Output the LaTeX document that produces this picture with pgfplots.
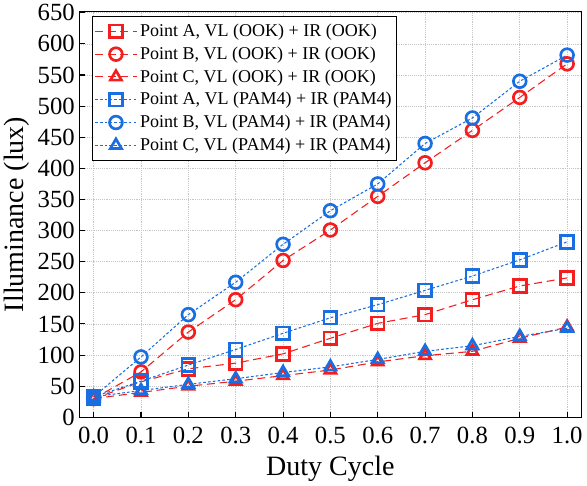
\documentclass[border=0pt]{standalone}
\usepackage{pgfplots}
\pgfplotsset{compat=1.18}
\usepackage{fontspec}
\setmainfont{Liberation Serif}
\definecolor{cred}{RGB}{245,30,30}
\definecolor{cblue}{RGB}{25,110,225}
\begin{document}
\begin{tikzpicture}
\begin{axis}[
  scale only axis, width=376pt, height=304pt,
  xmin=-0.03, xmax=1.03, ymin=0, ymax=652,
  xtick={0,0.1,...,1.0},
  xticklabel style={/pgf/number format/fixed,/pgf/number format/fixed zerofill,/pgf/number format/precision=1, yshift=-4pt},
  ytick={0,50,...,650},
  /pgf/number format/assume math mode=true,
  tick label style={font=\fontsize{18.5}{18.5}\selectfont},
  xlabel={Duty Cycle}, ylabel={Illuminance (lux)},
  label style={font=\fontsize{21}{21}\selectfont},
  xlabel style={yshift=-2pt},
  ylabel style={yshift=-1pt},
  tick pos=left, tick align=inside,
  major tick length=4pt,
  grid=major, grid style={gray!45, densely dotted, line width=0.6pt},
  axis line style={line width=0.9pt},
  every tick/.style={black, line width=0.8pt},
  legend style={at={(0.025,0.99)}, anchor=north west, font=\fontsize{13.5}{14}\selectfont, draw=black, line width=0.8pt, inner xsep=1.5pt, inner ysep=4pt, row sep=2.2pt},
  legend cell align=left,
  legend image code/.code={\draw[mark repeat=2,mark phase=2] plot coordinates {(0cm,0cm) (0.55cm,0cm) (1.1cm,0cm)};},
  every axis plot/.append style={mark size=4.8pt, mark options={solid, line width=2pt, fill=none}},
]
\addplot[cred, dashed, dash pattern=on 6pt off 3.5pt, line width=0.8pt, mark=square] coordinates {(0,30)(0.1,57)(0.2,78)(0.3,87)(0.4,102)(0.5,127)(0.6,151)(0.7,165)(0.8,189)(0.9,211)(1.0,224)};
\addlegendentry{Point A, VL (OOK) + IR (OOK)}
\addplot[cred, dash pattern=on 6pt off 3.5pt, line width=0.8pt, mark=o] coordinates {(0,30)(0.1,73)(0.2,137)(0.3,189)(0.4,252)(0.5,301)(0.6,355)(0.7,409)(0.8,461)(0.9,514)(1.0,568)};
\addlegendentry{Point B, VL (OOK) + IR (OOK)}
\addplot[cred, dash pattern=on 6pt off 3.5pt, line width=0.8pt, mark=triangle] coordinates {(0,30)(0.1,40)(0.2,50)(0.3,58)(0.4,67)(0.5,76)(0.6,89)(0.7,99)(0.8,106)(0.9,127)(1.0,145)};
\addlegendentry{Point C, VL (OOK) + IR (OOK)}
\addplot[cblue, dash pattern=on 2pt off 1.6pt, line width=0.8pt, mark=square] coordinates {(0,33)(0.1,58)(0.2,84)(0.3,109)(0.4,135)(0.5,160)(0.6,181)(0.7,204)(0.8,227)(0.9,253)(1.0,282)};
\addlegendentry{Point A, VL (PAM4) + IR (PAM4)}
\addplot[cblue, dash pattern=on 2pt off 1.6pt, line width=0.8pt, mark=o] coordinates {(0,33)(0.1,97)(0.2,165)(0.3,217)(0.4,278)(0.5,332)(0.6,375)(0.7,440)(0.8,481)(0.9,540)(1.0,582)};
\addlegendentry{Point B, VL (PAM4) + IR (PAM4)}
\addplot[cblue, dash pattern=on 2pt off 1.6pt, line width=0.8pt, mark=triangle] coordinates {(0,33)(0.1,43)(0.2,53)(0.3,62)(0.4,72)(0.5,81)(0.6,93)(0.7,106)(0.8,115)(0.9,130)(1.0,143)};
\addlegendentry{Point C, VL (PAM4) + IR (PAM4)}
\end{axis}
\end{tikzpicture}
\end{document}
